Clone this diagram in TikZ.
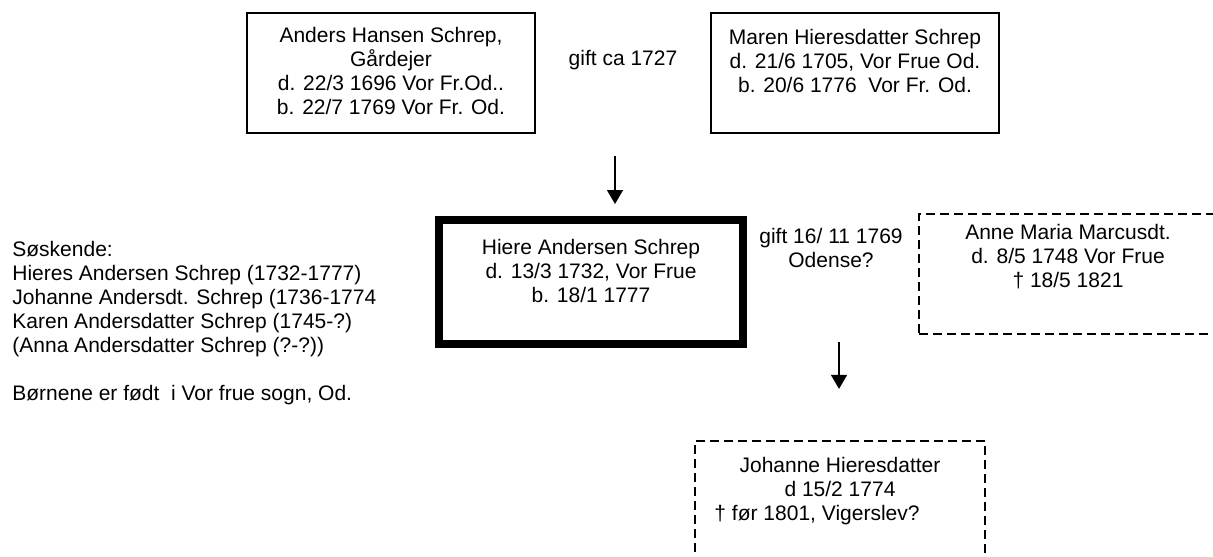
\documentclass[tikz,border=0pt]{standalone}
\usepackage{fontspec}
\setmainfont{Liberation Sans}
\usepackage{tikz}
\usetikzlibrary{arrows.meta}
\tikzstyle{person} = [rectangle, draw=black, line width=0.7pt, align=center, inner sep=0pt]
\tikzstyle{parent} = [person, minimum width=144pt]
\tikzstyle{main} = [person, line width=4pt, minimum width=152pt, text height=41.3pt, text depth=20.7pt]
\tikzstyle{unsure} = [person, dash pattern=on 4.5pt off 2.5pt]
\tikzstyle{note} = [align=center, inner sep=0pt]
\tikzstyle{arrow} = [line width=0.7pt,->,>={Triangle[length=7pt,width=8pt]}]

\begin{document}
\begin{tikzpicture}[node distance=100pt, font=\fontsize{10.5}{12}\selectfont]
\path [use as bounding box, fill=white] (0,0) rectangle (606.5pt,-278pt);
\node (anders) [parent, text height=50.8pt, text depth=9.2pt] at (195.5pt,-36.5pt) {Anders Hansen Schrep,\\ Gårdejer\\ d. 22/3 1696 Vor Fr.Od..\\ b. 22/7 1769 Vor Fr. Od.};
\node (maren) [parent, right of=anders, xshift=132pt, text height=39.8pt, text depth=20.2pt] {Maren Hieresdatter Schrep\\ d. 21/6 1705, Vor Frue Od.\\ b. 20/6 1776~ Vor Fr. Od.};
\node (gift1) [note, right of=anders, xshift=16pt, yshift=6.5pt] {gift ca 1727};
\node (hiere) [main, below of=anders, xshift=100pt, yshift=-4.5pt] {Hiere Andersen Schrep\\ d. 13/3 1732, Vor Frue\\ b. 18/1 1777};
\node (gift2) [note, right of=hiere, xshift=20pt, yshift=17pt] {gift 16/ 11 1769\\ Odense?};
\node (anne) [unsure, right of=hiere, xshift=138.5pt, yshift=4pt, minimum width=149pt, text height=36.8pt, text depth=23.2pt] {Anne Maria Marcusdt.\\ d. 8/5 1748 Vor Frue\\ † 18/5 1821};
\node (johanne) [unsure, below of=hiere, xshift=124.5pt, yshift=-12pt, minimum width=145pt, text height=39.8pt, text depth=25.2pt] {Johanne Hieresdatter\\ d 15/2 1774\\ † før 1801, Vigerslev?\hspace*{23pt}};
\node (soskende) [note, align=left, anchor=base west] at (6pt,-200.3pt) {Søskende:\\ Hieres Andersen Schrep (1732-1777)\\ Johanne Andersdt. Schrep (1736-1774\\ Karen Andersdatter Schrep (1745-?)\\ (Anna Andersdatter Schrep (?-?))\\ \\ Børnene er født~ i Vor frue sogn, Od.};
\coordinate (down1) at (307.5pt,-78pt);
\coordinate (down2) at (419.5pt,-171pt);
\draw [arrow, shorten >=6pt] (down1) -- (down1 |- hiere.north);
\draw [arrow, shorten >=25.7pt] (down2) -- (down2 |- johanne.north);
\end{tikzpicture}
\end{document}
